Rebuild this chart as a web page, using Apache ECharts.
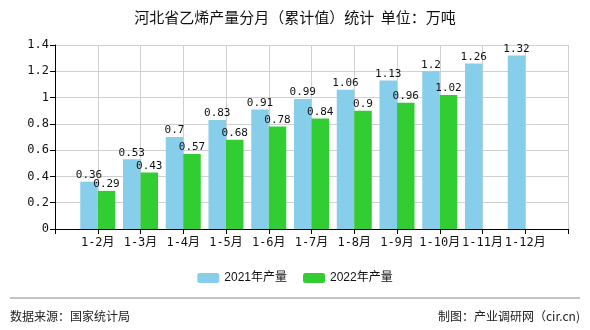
<!DOCTYPE html>
<html><head><meta charset="utf-8">
<script src="https://cdn.jsdelivr.net/npm/echarts@6/dist/echarts.min.js"></script>
<style>html,body{margin:0;padding:0;background:#fff}#c{width:590px;height:330px}</style>
</head><body><div id="c"></div>
<script>
var categories = ['', '1-2月', '1-3月', '1-4月', '1-5月', '1-6月', '1-7月', '1-8月', '1-9月', '1-10月', '1-11月', '1-12月', ''];
var series2021 = [null, 0.36, 0.53, 0.7, 0.83, 0.91, 0.99, 1.06, 1.13, 1.2, 1.26, 1.32, null];
var series2022 = [null, 0.29, 0.43, 0.57, 0.68, 0.78, 0.84, 0.9, 0.96, 1.02, null, null, null];
var seriesNames = ['2021年产量', '2022年产量'];
var yTicks = {min: 0, max: 1.4, interval: 0.2};

var mono = '"DejaVu Sans Mono", "Liberation Mono", monospace';
var cjk = '"Noto Sans CJK SC", sans-serif';
var chart = echarts.init(document.getElementById('c'), null, {renderer: 'canvas'});
chart.setOption({
  animation: false,
  title: {text: '河北省乙烯产量分月（累计值）统计  单位：万吨', left: 'center', top: 5,
    textStyle: {fontSize: 15, fontWeight: 'normal', color: '#111', fontFamily: cjk}},
  legend: {bottom: 41, itemWidth: 22, itemHeight: 10, itemGap: 16,
    textStyle: {fontSize: 12, color: '#111', fontFamily: '"Liberation Sans", ' + cjk},
    data: seriesNames},
  grid: {left: 55, right: 22, top: 45, bottom: 101},
  xAxis: {type: 'category', data: categories, boundaryGap: false,
    axisLine: {lineStyle: {color: '#000'}},
    axisTick: {show: true, interval: 0, lineStyle: {color: '#000'}},
    axisLabel: {interval: 0, color: '#111', fontSize: 12, fontFamily: mono + ', ' + cjk, margin: 8},
    splitLine: {show: true, interval: 0, lineStyle: {color: '#d0d0d0'}}},
  yAxis: {type: 'value', min: yTicks.min, max: yTicks.max, interval: yTicks.interval,
    axisLine: {show: true, lineStyle: {color: '#000'}},
    axisTick: {show: true, lineStyle: {color: '#000'}},
    axisLabel: {color: '#111', fontSize: 12, fontFamily: mono, margin: 6},
    splitLine: {show: true, lineStyle: {color: '#d0d0d0'}}},
  series: [
    {name: seriesNames[0], type: 'bar', data: series2021, barWidth: 17.5, barGap: '0%',
      itemStyle: {color: '#87CEEB'},
      label: {show: true, position: 'top', color: '#111', fontSize: 11, fontFamily: mono, distance: 1}},
    {name: seriesNames[1], type: 'bar', data: series2022, barWidth: 17.5, barGap: '0%',
      itemStyle: {color: '#32CD32'},
      label: {show: true, position: 'top', color: '#111', fontSize: 11, fontFamily: mono, distance: 1}}
  ],
  graphic: [
    {type: 'line', shape: {x1: 10, y1: 298, x2: 580, y2: 298}, style: {stroke: '#888', lineWidth: 1}},
    {type: 'text', left: 10, top: 310, style: {text: '数据来源：国家统计局', fontSize: 12, fill: '#222', fontFamily: cjk}},
    {type: 'text', right: 10, top: 310, style: {text: '制图：产业调研网（cir.cn)', fontSize: 12, fill: '#222', fontFamily: cjk}}
  ]
});
</script></body></html>
